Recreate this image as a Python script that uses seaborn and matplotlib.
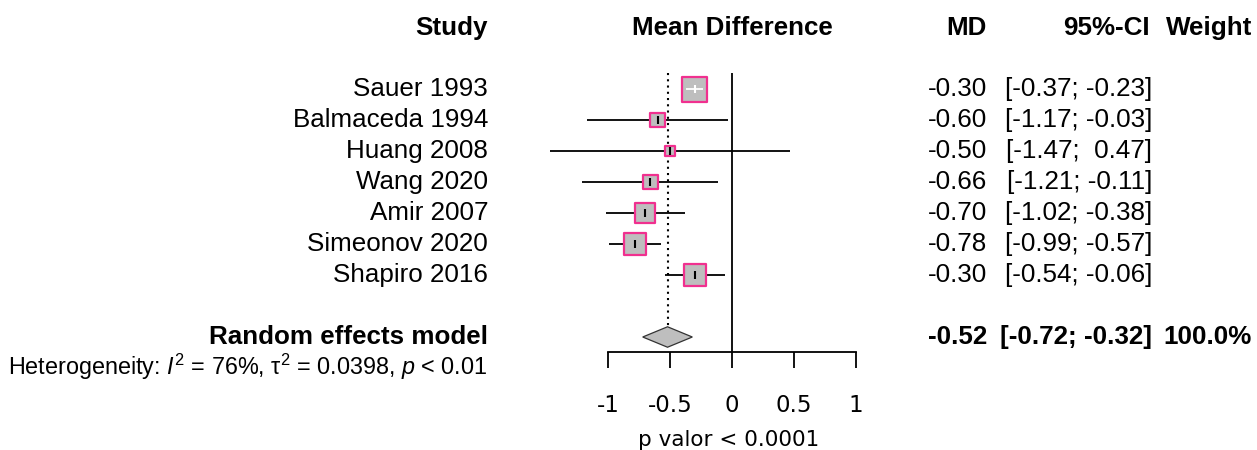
import numpy as np
import pandas as pd
import matplotlib
matplotlib.use("Agg")
import matplotlib.pyplot as plt
import matplotlib.transforms as mtransforms
import seaborn as sns

# data
studies = ["Sauer 1993", "Balmaceda 1994", "Huang 2008", "Wang 2020",
           "Amir 2007", "Simeonov 2020", "Shapiro 2016"]
md = [-0.30, -0.60, -0.50, -0.66, -0.70, -0.78, -0.30]
ci_low = [-0.37, -1.17, -1.47, -1.21, -1.02, -0.99, -0.54]
ci_high = [-0.23, -0.03, 0.47, -0.11, -0.38, -0.57, -0.06]
weights = [25.0, 8.3, 3.6, 8.7, 15.5, 20.1, 18.8]   # box areas (weight %)
re_md, re_low, re_high = -0.52, -0.72, -0.32
het_text = r"Heterogeneity: $I^2$ = 76%, τ$^2$ = 0.0398, $p$ < 0.01"
xticks = [-1, -0.5, 0, 0.5, 1]
xticklabels = ["-1", "-0.5", "0", "0.5", "1"]

df = pd.DataFrame({"study": studies, "md": md, "lo": ci_low, "hi": ci_high,
                   "w": weights})
df["row"] = np.arange(1, len(df) + 1)
re_row = len(df) + 2

sns.set_style("white")
plt.rcParams["font.family"] = ["Liberation Sans", "DejaVu Sans"]
plt.rcParams["text.color"] = "black"
plt.rcParams["axes.labelcolor"] = "black"
plt.rcParams["xtick.color"] = "black"
plt.rcParams["mathtext.fontset"] = "custom"
plt.rcParams["mathtext.rm"] = "Liberation Sans"
plt.rcParams["mathtext.it"] = "Liberation Sans:italic"

W, H = 1257, 450
fig = plt.figure(figsize=(W / 100, H / 100), dpi=100)

# axes geometry in pixels: 0 at x=732, 124 px per unit; row 1 at y=89, 31 px/row
x0_px, ppu = 732, 124
xlim = (-1.5, 1.05)
y_top_px, y_bot_px = 60, 352
row_px = 31
ylim = (1 + (y_bot_px - 89) / row_px, 1 + (y_top_px - 89) / row_px)
left = (x0_px + xlim[0] * ppu) / W
width = (xlim[1] - xlim[0]) * ppu / W
ax = fig.add_axes([left, 1 - y_bot_px / H, width, (y_bot_px - y_top_px) / H])
ax.set_xlim(*xlim)
ax.set_ylim(*ylim)

pink = "#F0308F"
grey = "#BEBEBE"

# reference lines
top_row = 1 + (73 - 89) / row_px
ax.vlines(0, top_row, ylim[0], color="black", lw=1.3, zorder=1)
ax.vlines(re_md, top_row, re_row - 0.33, color="black", lw=1.5,
          linestyles=(0, (1, 2)), zorder=1)

# confidence intervals
ax.hlines(df["row"], df["lo"], df["hi"], color="black", lw=1.3, zorder=2)

# weighted squares
k = (5 * 0.72) ** 2
sns.scatterplot(data=df, x="md", y="row", size="w", marker="s",
                sizes=(df["w"].min() * k, df["w"].max() * k),
                color=grey, edgecolor=pink, linewidth=1.6, legend=False,
                ax=ax, zorder=3)

# estimate ticks (white when the CI sits inside the box)
half_px = 5 * np.sqrt(df["w"]) / 2
inside = [(m - lo) * ppu < hp and (hi - m) * ppu < hp
          for m, lo, hi, hp in zip(df["md"], df["lo"], df["hi"], half_px)]
for r, m, lo, hi, ins in zip(df["row"], df["md"], df["lo"], df["hi"], inside):
    c = "white" if ins else "black"
    if ins:
        ax.hlines(r, lo, hi, color=c, lw=1.3, zorder=4)
    ax.vlines(m, r - 0.13, r + 0.13, color=c, lw=1.5, zorder=4)

# pooled diamond
dh = 0.33
ax.fill([re_low, re_md, re_high, re_md], [re_row, re_row - dh, re_row, re_row + dh],
        facecolor=grey, edgecolor="#333333", lw=0.9, zorder=3)

# axis styling
for s in ["left", "top", "right"]:
    ax.spines[s].set_visible(False)
ax.spines["bottom"].set_bounds(-1, 1)
ax.spines["bottom"].set_linewidth(1.3)
ax.spines["bottom"].set_color("black")
ax.set_yticks([])
ax.set_ylabel("")
ax.set_xticks(xticks)
ax.set_xticklabels(xticklabels, family="DejaVu Sans", fontsize=16.5)
ax.tick_params(axis="x", direction="out", length=11.5, width=1.3, pad=19,
               bottom=True, color="black")
ax.set_xlabel("p valor < 0.0001", family="DejaVu Sans", fontsize=15.5)
ax.xaxis.set_label_coords((728.5 - left * W) / (width * W),
                          (y_bot_px - 440) / (y_bot_px - y_top_px))
ax.xaxis.label.set_verticalalignment("center")
ax.set_facecolor("none")

# table text: x in figure pixels, y in data rows
tr = mtransforms.blended_transform_factory(fig.transFigure, ax.transData)
fs = 18.7
hdr_row = 1 + (28 - 89) / row_px
def put(xpx, row, s, ha="right", bold=False, size=fs):
    ax.text(xpx / W, row, s, transform=tr, ha=ha, va="center", fontsize=size,
            fontweight="bold" if bold else "normal", clip_on=False,
            color="black")

put(488, hdr_row, "Study", bold=True)
put(732, hdr_row, "Mean Difference", ha="center", bold=True)
put(987, hdr_row, "MD", bold=True)
put(1150, hdr_row, "95%-CI", bold=True)
put(1252, hdr_row, "Weight", bold=True)

for r, s, m, lo, hi in zip(df["row"], df["study"], df["md"], df["lo"], df["hi"]):
    put(488, r, s)
    put(987, r, f"{m:.2f}")
    put(1152, r, f"[{lo:.2f}; {hi:5.2f}]")

put(488, re_row, "Random effects model", bold=True)
put(987, re_row, f"{re_md:.2f}", bold=True)
put(1152, re_row, f"[{re_low:.2f}; {re_high:.2f}]", bold=True)
put(1252, re_row, "100.0%", bold=True)
put(8, 1 + (367 - 89) / row_px, het_text, ha="left", size=16.8)

fig.savefig("out.png", dpi=100)
